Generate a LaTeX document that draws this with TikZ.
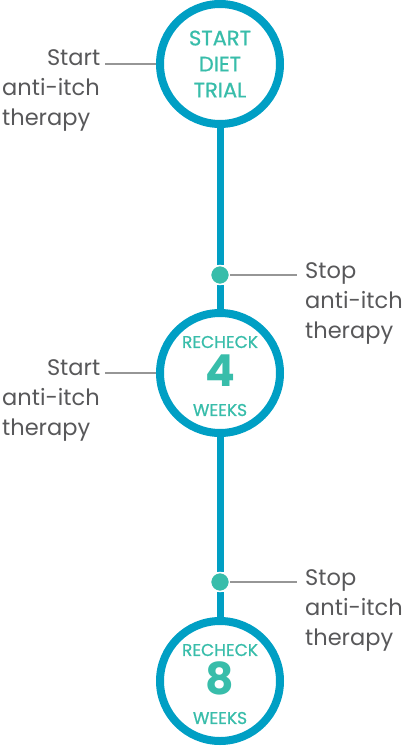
\documentclass[tikz,border=0pt]{standalone}
\usepackage{fontspec}
\setmainfont{Poppins}
\newfontfamily\stagefont{Poppins}[FakeBold=0.8]
\usetikzlibrary{positioning, backgrounds}

\definecolor{ringBlue}{RGB}{0,159,196}
\definecolor{dotTeal}{RGB}{56,189,170}
\definecolor{noteGray}{RGB}{88,88,90}
\definecolor{leaderGray}{RGB}{150,150,150}

\newcommand{\stagelines}{\lineskiplimit=-\maxdimen\relax}
\newcommand{\bignum}[1]{{\rmfamily\bfseries\fontsize{44}{0}\selectfont #1}}

\tikzset{
	stage/.style={draw=ringBlue, line width=8pt, circle, fill=white, minimum size=120pt,
		inner sep=0pt, align=center, text=dotTeal},
	stopdot/.style={circle, fill=dotTeal, draw=white, line width=1.5pt, minimum size=19pt,
		inner sep=0pt},
	note/.style={text=noteGray, font=\fontsize{22.5}{30}\selectfont, inner sep=0pt},
	leader/.style={draw=leaderGray, line width=1.2pt},
	spine/.style={draw=ringBlue, line width=7pt}
}

\begin{document}
\begin{tikzpicture}[x=1pt, y=-1pt]
		\useasboundingbox (0,0) rectangle (402,746);
		
		\node (trial) at (220,64) [stage, font=\stagefont\fontsize{21}{0}\selectfont\stagelines]{START\\[26pt]DIET\\[26pt]TRIAL};
		
		\node (stopA) at (220,275) [stopdot]{};
		
		\node (week4) at (220,373) [stage, font=\stagefont\fontsize{17}{0}\selectfont\stagelines]{\rule{0pt}{18pt}RECHECK\\[39pt]\bignum{4}\\[29pt]WEEKS};
		
		\node (stopB) at (220,582) [stopdot]{};
		
		\node (week8) at (220,681) [stage, font=\stagefont\fontsize{17}{0}\selectfont\stagelines]{\rule{0pt}{18pt}RECHECK\\[39pt]\bignum{8}\\[29pt]WEEKS};
		
		\node (startNoteA) at (2,66) [note, anchor=base west, text width=98pt, align=left]{\hfill Start\\anti-itch\\therapy};
		
		\node (stopNoteA) at (305,338) [note, anchor=base west, align=left]{Stop\\anti-itch\\therapy};
		
		\node (startNoteB) at (2,375) [note, anchor=base west, text width=98pt, align=left]{\hfill Start\\anti-itch\\therapy};
		
		\node (stopNoteB) at (305,645) [note, anchor=base west, align=left]{Stop\\anti-itch\\therapy};
		
		\coordinate (startEndA) at (105,64);
		\coordinate (stopEndA) at (297,275);
		\coordinate (startEndB) at (105,373);
		\coordinate (stopEndB) at (297,582);
		
		%Links
		\begin{scope}[on background layer]
		\draw[spine] (trial) -- (stopA) -- (week4) -- (stopB) -- (week8);
		\draw[leader] (startEndA) -- (trial.west);
		\draw[leader] (startEndB) -- (week4.west);
		\end{scope}
		\draw[leader] (stopA.east) -- (stopEndA);
		\draw[leader] (stopB.east) -- (stopEndB);
		
\end{tikzpicture}
\end{document}
